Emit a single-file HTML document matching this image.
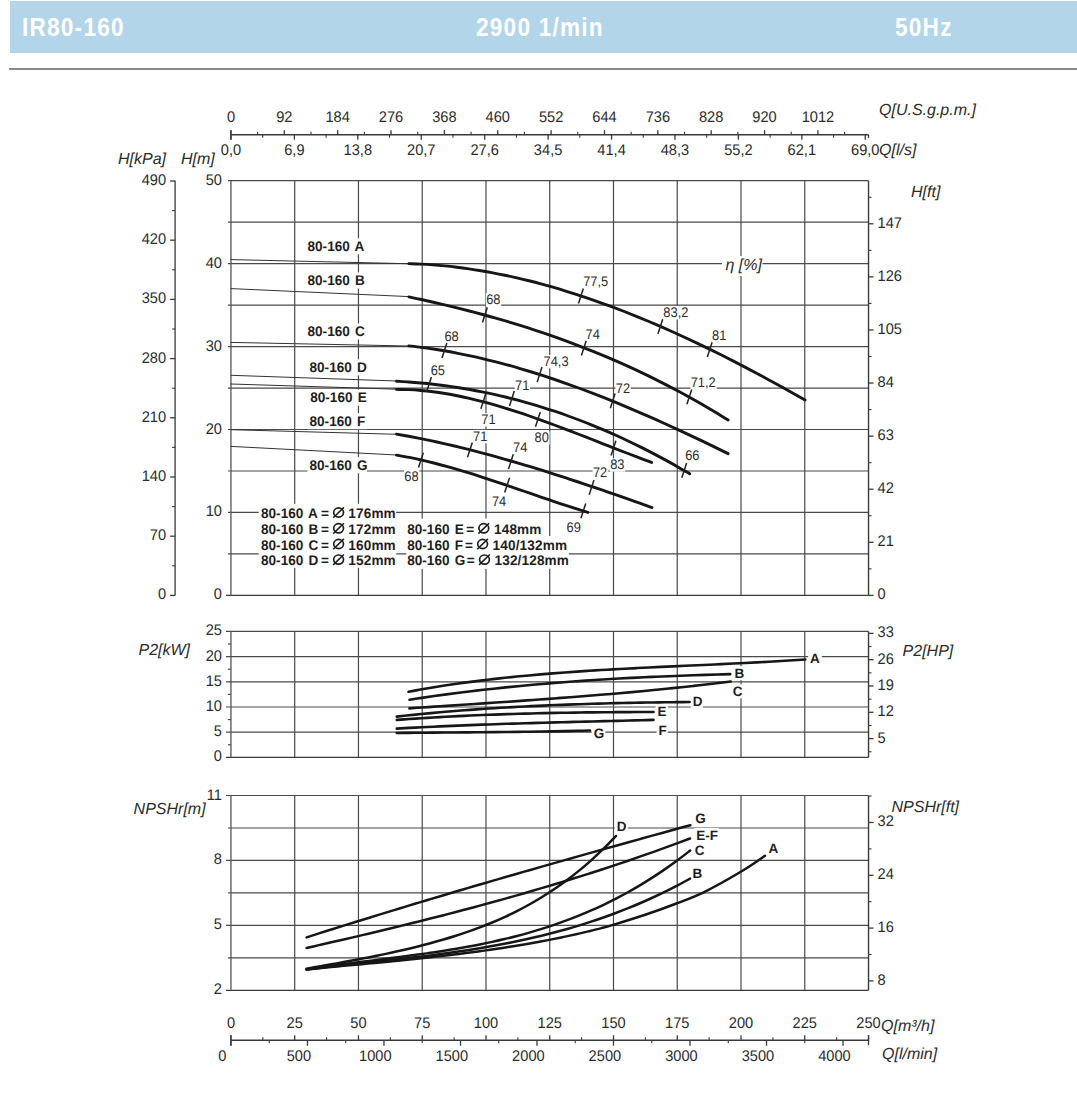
<!DOCTYPE html>
<html><head><meta charset="utf-8"><style>
html,body{margin:0;padding:0;background:#fff;width:1077px;height:1101px;overflow:hidden;}
body{position:relative;font-family:"Liberation Sans",sans-serif;}
.bar{position:absolute;left:10px;top:1px;width:1067px;height:52px;background:#b2d5ea;}
.bar span{position:absolute;top:11px;color:#fff;font-weight:bold;font-size:26px;line-height:30px;white-space:nowrap;transform-origin:0 0;transform:scaleX(0.87);letter-spacing:1.4px;}
.rule{position:absolute;left:9px;top:68px;width:1068px;height:1.6px;background:#8a8a8a;}
svg{position:absolute;left:0;top:0;}
svg text{font-family:"Liberation Sans",sans-serif;text-rendering:geometricPrecision;}
</style></head><body>
<div class="bar"><span id="t1" style="left:11.5px">IR80-160</span><span id="t2" style="left:466px">2900 1/min</span><span id="t3" style="left:884.8px">50Hz</span></div>
<div class="rule"></div>
<svg width="1077" height="1101" viewBox="0 0 1077 1101">
<line x1="230.95" y1="134.7" x2="868.53" y2="134.7" stroke="#3a3a3a" stroke-width="1.5"/>
<line x1="230.95" y1="130.2" x2="230.95" y2="134.7" stroke="#3a3a3a" stroke-width="1.3"/>
<text transform="translate(230.95,122) scale(0.95,1)" font-size="15.4" text-anchor="middle" fill="#2b2b2b">0</text>
<line x1="284.31" y1="130.2" x2="284.31" y2="134.7" stroke="#3a3a3a" stroke-width="1.3"/>
<text transform="translate(284.31,122) scale(0.95,1)" font-size="15.4" text-anchor="middle" fill="#2b2b2b">92</text>
<line x1="337.67" y1="130.2" x2="337.67" y2="134.7" stroke="#3a3a3a" stroke-width="1.3"/>
<text transform="translate(337.67,122) scale(0.95,1)" font-size="15.4" text-anchor="middle" fill="#2b2b2b">184</text>
<line x1="391.03" y1="130.2" x2="391.03" y2="134.7" stroke="#3a3a3a" stroke-width="1.3"/>
<text transform="translate(391.03,122) scale(0.95,1)" font-size="15.4" text-anchor="middle" fill="#2b2b2b">276</text>
<line x1="444.39" y1="130.2" x2="444.39" y2="134.7" stroke="#3a3a3a" stroke-width="1.3"/>
<text transform="translate(444.39,122) scale(0.95,1)" font-size="15.4" text-anchor="middle" fill="#2b2b2b">368</text>
<line x1="497.75" y1="130.2" x2="497.75" y2="134.7" stroke="#3a3a3a" stroke-width="1.3"/>
<text transform="translate(497.75,122) scale(0.95,1)" font-size="15.4" text-anchor="middle" fill="#2b2b2b">460</text>
<line x1="551.11" y1="130.2" x2="551.11" y2="134.7" stroke="#3a3a3a" stroke-width="1.3"/>
<text transform="translate(551.11,122) scale(0.95,1)" font-size="15.4" text-anchor="middle" fill="#2b2b2b">552</text>
<line x1="604.47" y1="130.2" x2="604.47" y2="134.7" stroke="#3a3a3a" stroke-width="1.3"/>
<text transform="translate(604.47,122) scale(0.95,1)" font-size="15.4" text-anchor="middle" fill="#2b2b2b">644</text>
<line x1="657.83" y1="130.2" x2="657.83" y2="134.7" stroke="#3a3a3a" stroke-width="1.3"/>
<text transform="translate(657.83,122) scale(0.95,1)" font-size="15.4" text-anchor="middle" fill="#2b2b2b">736</text>
<line x1="711.19" y1="130.2" x2="711.19" y2="134.7" stroke="#3a3a3a" stroke-width="1.3"/>
<text transform="translate(711.19,122) scale(0.95,1)" font-size="15.4" text-anchor="middle" fill="#2b2b2b">828</text>
<line x1="764.55" y1="130.2" x2="764.55" y2="134.7" stroke="#3a3a3a" stroke-width="1.3"/>
<text transform="translate(764.55,122) scale(0.95,1)" font-size="15.4" text-anchor="middle" fill="#2b2b2b">920</text>
<line x1="817.91" y1="130.2" x2="817.91" y2="134.7" stroke="#3a3a3a" stroke-width="1.3"/>
<text transform="translate(817.91,122) scale(0.95,1)" font-size="15.4" text-anchor="middle" fill="#2b2b2b">1012</text>
<line x1="257.63" y1="131.7" x2="257.63" y2="134.7" stroke="#3a3a3a" stroke-width="1.1"/>
<line x1="310.99" y1="131.7" x2="310.99" y2="134.7" stroke="#3a3a3a" stroke-width="1.1"/>
<line x1="364.35" y1="131.7" x2="364.35" y2="134.7" stroke="#3a3a3a" stroke-width="1.1"/>
<line x1="417.71" y1="131.7" x2="417.71" y2="134.7" stroke="#3a3a3a" stroke-width="1.1"/>
<line x1="471.07" y1="131.7" x2="471.07" y2="134.7" stroke="#3a3a3a" stroke-width="1.1"/>
<line x1="524.43" y1="131.7" x2="524.43" y2="134.7" stroke="#3a3a3a" stroke-width="1.1"/>
<line x1="577.79" y1="131.7" x2="577.79" y2="134.7" stroke="#3a3a3a" stroke-width="1.1"/>
<line x1="631.15" y1="131.7" x2="631.15" y2="134.7" stroke="#3a3a3a" stroke-width="1.1"/>
<line x1="684.51" y1="131.7" x2="684.51" y2="134.7" stroke="#3a3a3a" stroke-width="1.1"/>
<line x1="737.87" y1="131.7" x2="737.87" y2="134.7" stroke="#3a3a3a" stroke-width="1.1"/>
<line x1="791.23" y1="131.7" x2="791.23" y2="134.7" stroke="#3a3a3a" stroke-width="1.1"/>
<line x1="844.59" y1="131.7" x2="844.59" y2="134.7" stroke="#3a3a3a" stroke-width="1.1"/>
<line x1="230.95" y1="134.7" x2="230.95" y2="139.7" stroke="#3a3a3a" stroke-width="1.3"/>
<text transform="translate(230.95,154.5) scale(0.95,1)" font-size="15.4" text-anchor="middle" fill="#2b2b2b">0,0</text>
<line x1="294.38" y1="134.7" x2="294.38" y2="139.7" stroke="#3a3a3a" stroke-width="1.3"/>
<text transform="translate(294.38,154.5) scale(0.95,1)" font-size="15.4" text-anchor="middle" fill="#2b2b2b">6,9</text>
<line x1="357.81" y1="134.7" x2="357.81" y2="139.7" stroke="#3a3a3a" stroke-width="1.3"/>
<text transform="translate(357.81,154.5) scale(0.95,1)" font-size="15.4" text-anchor="middle" fill="#2b2b2b">13,8</text>
<line x1="421.25" y1="134.7" x2="421.25" y2="139.7" stroke="#3a3a3a" stroke-width="1.3"/>
<text transform="translate(421.25,154.5) scale(0.95,1)" font-size="15.4" text-anchor="middle" fill="#2b2b2b">20,7</text>
<line x1="484.68" y1="134.7" x2="484.68" y2="139.7" stroke="#3a3a3a" stroke-width="1.3"/>
<text transform="translate(484.68,154.5) scale(0.95,1)" font-size="15.4" text-anchor="middle" fill="#2b2b2b">27,6</text>
<line x1="548.11" y1="134.7" x2="548.11" y2="139.7" stroke="#3a3a3a" stroke-width="1.3"/>
<text transform="translate(548.11,154.5) scale(0.95,1)" font-size="15.4" text-anchor="middle" fill="#2b2b2b">34,5</text>
<line x1="611.54" y1="134.7" x2="611.54" y2="139.7" stroke="#3a3a3a" stroke-width="1.3"/>
<text transform="translate(611.54,154.5) scale(0.95,1)" font-size="15.4" text-anchor="middle" fill="#2b2b2b">41,4</text>
<line x1="674.97" y1="134.7" x2="674.97" y2="139.7" stroke="#3a3a3a" stroke-width="1.3"/>
<text transform="translate(674.97,154.5) scale(0.95,1)" font-size="15.4" text-anchor="middle" fill="#2b2b2b">48,3</text>
<line x1="738.4" y1="134.7" x2="738.4" y2="139.7" stroke="#3a3a3a" stroke-width="1.3"/>
<text transform="translate(738.4,154.5) scale(0.95,1)" font-size="15.4" text-anchor="middle" fill="#2b2b2b">55,2</text>
<line x1="801.84" y1="134.7" x2="801.84" y2="139.7" stroke="#3a3a3a" stroke-width="1.3"/>
<text transform="translate(801.84,154.5) scale(0.95,1)" font-size="15.4" text-anchor="middle" fill="#2b2b2b">62,1</text>
<line x1="865.27" y1="134.7" x2="865.27" y2="139.7" stroke="#3a3a3a" stroke-width="1.3"/>
<text transform="translate(865.27,154.5) scale(0.95,1)" font-size="15.4" text-anchor="middle" fill="#2b2b2b">69,0</text>
<line x1="262.67" y1="134.7" x2="262.67" y2="137.7" stroke="#3a3a3a" stroke-width="1.1"/>
<line x1="326.1" y1="134.7" x2="326.1" y2="137.7" stroke="#3a3a3a" stroke-width="1.1"/>
<line x1="389.53" y1="134.7" x2="389.53" y2="137.7" stroke="#3a3a3a" stroke-width="1.1"/>
<line x1="452.96" y1="134.7" x2="452.96" y2="137.7" stroke="#3a3a3a" stroke-width="1.1"/>
<line x1="516.39" y1="134.7" x2="516.39" y2="137.7" stroke="#3a3a3a" stroke-width="1.1"/>
<line x1="579.82" y1="134.7" x2="579.82" y2="137.7" stroke="#3a3a3a" stroke-width="1.1"/>
<line x1="643.26" y1="134.7" x2="643.26" y2="137.7" stroke="#3a3a3a" stroke-width="1.1"/>
<line x1="706.69" y1="134.7" x2="706.69" y2="137.7" stroke="#3a3a3a" stroke-width="1.1"/>
<line x1="770.12" y1="134.7" x2="770.12" y2="137.7" stroke="#3a3a3a" stroke-width="1.1"/>
<line x1="833.55" y1="134.7" x2="833.55" y2="137.7" stroke="#3a3a3a" stroke-width="1.1"/>
<line x1="230.95" y1="130.2" x2="230.95" y2="139.7" stroke="#3a3a3a" stroke-width="1.3"/>
<line x1="868.53" y1="134.7" x2="868.53" y2="137.9" stroke="#3a3a3a" stroke-width="1.3"/>
<text x="879" y="115" font-size="16" text-anchor="start" font-weight="normal" font-style="italic" fill="#2b2b2b">Q[U.S.g.p.m.]</text>
<text x="879" y="155" font-size="16" text-anchor="start" font-weight="normal" font-style="italic" fill="#2b2b2b">Q[l/s]</text>
<line x1="294.71" y1="180.7" x2="294.71" y2="595.4" stroke="#4a4a4a" stroke-width="1.2"/>
<line x1="358.46" y1="180.7" x2="358.46" y2="595.4" stroke="#4a4a4a" stroke-width="1.2"/>
<line x1="422.22" y1="180.7" x2="422.22" y2="595.4" stroke="#4a4a4a" stroke-width="1.2"/>
<line x1="485.98" y1="180.7" x2="485.98" y2="595.4" stroke="#4a4a4a" stroke-width="1.2"/>
<line x1="549.74" y1="180.7" x2="549.74" y2="595.4" stroke="#4a4a4a" stroke-width="1.2"/>
<line x1="613.5" y1="180.7" x2="613.5" y2="595.4" stroke="#4a4a4a" stroke-width="1.2"/>
<line x1="677.25" y1="180.7" x2="677.25" y2="595.4" stroke="#4a4a4a" stroke-width="1.2"/>
<line x1="741.01" y1="180.7" x2="741.01" y2="595.4" stroke="#4a4a4a" stroke-width="1.2"/>
<line x1="804.77" y1="180.7" x2="804.77" y2="595.4" stroke="#4a4a4a" stroke-width="1.2"/>
<line x1="225.95" y1="595.4" x2="868.53" y2="595.4" stroke="#3a3a3a" stroke-width="1.3"/>
<line x1="227.95" y1="553.93" x2="868.53" y2="553.93" stroke="#4a4a4a" stroke-width="1.2"/>
<line x1="227.95" y1="512.46" x2="868.53" y2="512.46" stroke="#4a4a4a" stroke-width="1.2"/>
<line x1="227.95" y1="470.99" x2="868.53" y2="470.99" stroke="#4a4a4a" stroke-width="1.2"/>
<line x1="227.95" y1="429.52" x2="868.53" y2="429.52" stroke="#4a4a4a" stroke-width="1.2"/>
<line x1="227.95" y1="388.05" x2="868.53" y2="388.05" stroke="#4a4a4a" stroke-width="1.2"/>
<line x1="227.95" y1="346.58" x2="868.53" y2="346.58" stroke="#4a4a4a" stroke-width="1.2"/>
<line x1="227.95" y1="305.11" x2="868.53" y2="305.11" stroke="#4a4a4a" stroke-width="1.2"/>
<line x1="227.95" y1="263.64" x2="868.53" y2="263.64" stroke="#4a4a4a" stroke-width="1.2"/>
<line x1="227.95" y1="222.17" x2="868.53" y2="222.17" stroke="#4a4a4a" stroke-width="1.2"/>
<line x1="227.95" y1="180.7" x2="868.53" y2="180.7" stroke="#4a4a4a" stroke-width="1.2"/>
<line x1="230.95" y1="180.7" x2="230.95" y2="595.4" stroke="#555" stroke-width="1.3"/>
<line x1="868.53" y1="180.7" x2="868.53" y2="595.4" stroke="#3a3a3a" stroke-width="1.4"/>
<text transform="translate(221.95,599.4) scale(0.95,1)" font-size="15.4" text-anchor="end" fill="#2b2b2b">0</text>
<text transform="translate(221.95,516.46) scale(0.95,1)" font-size="15.4" text-anchor="end" fill="#2b2b2b">10</text>
<text transform="translate(221.95,433.52) scale(0.95,1)" font-size="15.4" text-anchor="end" fill="#2b2b2b">20</text>
<text transform="translate(221.95,350.58) scale(0.95,1)" font-size="15.4" text-anchor="end" fill="#2b2b2b">30</text>
<text transform="translate(221.95,267.64) scale(0.95,1)" font-size="15.4" text-anchor="end" fill="#2b2b2b">40</text>
<text transform="translate(221.95,184.7) scale(0.95,1)" font-size="15.4" text-anchor="end" fill="#2b2b2b">50</text>
<line x1="175.1" y1="180.7" x2="175.1" y2="595.4" stroke="#3a3a3a" stroke-width="1.3"/>
<line x1="170.1" y1="595.4" x2="175.1" y2="595.4" stroke="#3a3a3a" stroke-width="1.3"/>
<text transform="translate(166.1,599.4) scale(0.95,1)" font-size="15.4" text-anchor="end" fill="#2b2b2b">0</text>
<line x1="172.1" y1="565.8" x2="175.1" y2="565.8" stroke="#3a3a3a" stroke-width="1.1"/>
<line x1="170.1" y1="536.2" x2="175.1" y2="536.2" stroke="#3a3a3a" stroke-width="1.3"/>
<text transform="translate(166.1,540.2) scale(0.95,1)" font-size="15.4" text-anchor="end" fill="#2b2b2b">70</text>
<line x1="172.1" y1="506.6" x2="175.1" y2="506.6" stroke="#3a3a3a" stroke-width="1.1"/>
<line x1="170.1" y1="476.99" x2="175.1" y2="476.99" stroke="#3a3a3a" stroke-width="1.3"/>
<text transform="translate(166.1,480.99) scale(0.95,1)" font-size="15.4" text-anchor="end" fill="#2b2b2b">140</text>
<line x1="172.1" y1="447.39" x2="175.1" y2="447.39" stroke="#3a3a3a" stroke-width="1.1"/>
<line x1="170.1" y1="417.79" x2="175.1" y2="417.79" stroke="#3a3a3a" stroke-width="1.3"/>
<text transform="translate(166.1,421.79) scale(0.95,1)" font-size="15.4" text-anchor="end" fill="#2b2b2b">210</text>
<line x1="172.1" y1="388.19" x2="175.1" y2="388.19" stroke="#3a3a3a" stroke-width="1.1"/>
<line x1="170.1" y1="358.59" x2="175.1" y2="358.59" stroke="#3a3a3a" stroke-width="1.3"/>
<text transform="translate(166.1,362.59) scale(0.95,1)" font-size="15.4" text-anchor="end" fill="#2b2b2b">280</text>
<line x1="172.1" y1="328.99" x2="175.1" y2="328.99" stroke="#3a3a3a" stroke-width="1.1"/>
<line x1="170.1" y1="299.39" x2="175.1" y2="299.39" stroke="#3a3a3a" stroke-width="1.3"/>
<text transform="translate(166.1,303.39) scale(0.95,1)" font-size="15.4" text-anchor="end" fill="#2b2b2b">350</text>
<line x1="172.1" y1="269.79" x2="175.1" y2="269.79" stroke="#3a3a3a" stroke-width="1.1"/>
<line x1="170.1" y1="240.18" x2="175.1" y2="240.18" stroke="#3a3a3a" stroke-width="1.3"/>
<text transform="translate(166.1,244.18) scale(0.95,1)" font-size="15.4" text-anchor="end" fill="#2b2b2b">420</text>
<line x1="172.1" y1="210.58" x2="175.1" y2="210.58" stroke="#3a3a3a" stroke-width="1.1"/>
<line x1="170.1" y1="180.98" x2="175.1" y2="180.98" stroke="#3a3a3a" stroke-width="1.3"/>
<text transform="translate(166.1,184.98) scale(0.95,1)" font-size="15.4" text-anchor="end" fill="#2b2b2b">490</text>
<line x1="868.53" y1="595.4" x2="873.53" y2="595.4" stroke="#3a3a3a" stroke-width="1.3"/>
<text transform="translate(877.53,599.4) scale(0.95,1)" font-size="15.4" text-anchor="start" fill="#2b2b2b">0</text>
<line x1="868.53" y1="542.31" x2="873.53" y2="542.31" stroke="#3a3a3a" stroke-width="1.3"/>
<text transform="translate(877.53,546.31) scale(0.95,1)" font-size="15.4" text-anchor="start" fill="#2b2b2b">21</text>
<line x1="868.53" y1="489.22" x2="873.53" y2="489.22" stroke="#3a3a3a" stroke-width="1.3"/>
<text transform="translate(877.53,493.22) scale(0.95,1)" font-size="15.4" text-anchor="start" fill="#2b2b2b">42</text>
<line x1="868.53" y1="436.14" x2="873.53" y2="436.14" stroke="#3a3a3a" stroke-width="1.3"/>
<text transform="translate(877.53,440.14) scale(0.95,1)" font-size="15.4" text-anchor="start" fill="#2b2b2b">63</text>
<line x1="868.53" y1="383.05" x2="873.53" y2="383.05" stroke="#3a3a3a" stroke-width="1.3"/>
<text transform="translate(877.53,387.05) scale(0.95,1)" font-size="15.4" text-anchor="start" fill="#2b2b2b">84</text>
<line x1="868.53" y1="329.96" x2="873.53" y2="329.96" stroke="#3a3a3a" stroke-width="1.3"/>
<text transform="translate(877.53,333.96) scale(0.95,1)" font-size="15.4" text-anchor="start" fill="#2b2b2b">105</text>
<line x1="868.53" y1="276.87" x2="873.53" y2="276.87" stroke="#3a3a3a" stroke-width="1.3"/>
<text transform="translate(877.53,280.87) scale(0.95,1)" font-size="15.4" text-anchor="start" fill="#2b2b2b">126</text>
<line x1="868.53" y1="223.78" x2="873.53" y2="223.78" stroke="#3a3a3a" stroke-width="1.3"/>
<text transform="translate(877.53,227.78) scale(0.95,1)" font-size="15.4" text-anchor="start" fill="#2b2b2b">147</text>
<line x1="868.53" y1="568.86" x2="871.53" y2="568.86" stroke="#3a3a3a" stroke-width="1.1"/>
<line x1="868.53" y1="515.77" x2="871.53" y2="515.77" stroke="#3a3a3a" stroke-width="1.1"/>
<line x1="868.53" y1="462.68" x2="871.53" y2="462.68" stroke="#3a3a3a" stroke-width="1.1"/>
<line x1="868.53" y1="409.59" x2="871.53" y2="409.59" stroke="#3a3a3a" stroke-width="1.1"/>
<line x1="868.53" y1="356.5" x2="871.53" y2="356.5" stroke="#3a3a3a" stroke-width="1.1"/>
<line x1="868.53" y1="303.41" x2="871.53" y2="303.41" stroke="#3a3a3a" stroke-width="1.1"/>
<line x1="868.53" y1="250.33" x2="871.53" y2="250.33" stroke="#3a3a3a" stroke-width="1.1"/>
<line x1="868.53" y1="197.24" x2="871.53" y2="197.24" stroke="#3a3a3a" stroke-width="1.1"/>
<text x="118" y="164" font-size="16" text-anchor="start" font-weight="normal" font-style="italic" fill="#2b2b2b">H[kPa]</text>
<text x="181" y="164" font-size="16" text-anchor="start" font-weight="normal" font-style="italic" fill="#2b2b2b">H[m]</text>
<text x="911" y="197" font-size="16" text-anchor="start" font-weight="normal" font-style="italic" fill="#2b2b2b">H[ft]</text>
<path d="M231,259.6 L408.9,263.7" fill="none" stroke="#333" stroke-width="1.0" stroke-linecap="round" stroke-linejoin="round"/>
<path d="M231,288.6 L408.9,296.6" fill="none" stroke="#333" stroke-width="1.0" stroke-linecap="round" stroke-linejoin="round"/>
<path d="M231,342.4 L408.8,346" fill="none" stroke="#333" stroke-width="1.0" stroke-linecap="round" stroke-linejoin="round"/>
<path d="M231,375.3 L396.5,381" fill="none" stroke="#333" stroke-width="1.0" stroke-linecap="round" stroke-linejoin="round"/>
<path d="M231,384 L396.5,389.2" fill="none" stroke="#333" stroke-width="1.0" stroke-linecap="round" stroke-linejoin="round"/>
<path d="M231,429.7 L396.5,434.3" fill="none" stroke="#333" stroke-width="1.0" stroke-linecap="round" stroke-linejoin="round"/>
<path d="M231,446.4 L396.5,455" fill="none" stroke="#333" stroke-width="1.0" stroke-linecap="round" stroke-linejoin="round"/>
<rect x="305.5" y="238.3" width="59.4" height="16.1" fill="#fff"/>
<rect x="305.5" y="272.4" width="59.4" height="16.1" fill="#fff"/>
<rect x="305.5" y="323.4" width="59.4" height="16.1" fill="#fff"/>
<rect x="307.5" y="359.3" width="59.4" height="16.1" fill="#fff"/>
<rect x="308.2" y="389.6" width="59.4" height="16.1" fill="#fff"/>
<rect x="307.5" y="413.1" width="59.4" height="16.1" fill="#fff"/>
<rect x="307.5" y="457.2" width="59.4" height="16.1" fill="#fff"/>
<rect x="258.7" y="503.8" width="137.5" height="64" fill="#fff"/>
<rect x="406.3" y="518.6" width="136" height="18" fill="#fff"/>
<rect x="406.3" y="536" width="162.5" height="32.8" fill="#fff"/>
<rect x="582.9" y="275.6" width="26.29" height="13.4" fill="#fff"/>
<rect x="663" y="306" width="26.29" height="13.4" fill="#fff"/>
<rect x="711.7" y="329.5" width="15.28" height="13.4" fill="#fff"/>
<rect x="485.9" y="293.1" width="15.28" height="13.4" fill="#fff"/>
<rect x="585.2" y="328.5" width="15.28" height="13.4" fill="#fff"/>
<rect x="690.4" y="376.2" width="26.29" height="13.4" fill="#fff"/>
<rect x="444.1" y="330.1" width="15.28" height="13.4" fill="#fff"/>
<rect x="543.2" y="355.1" width="26.29" height="13.4" fill="#fff"/>
<rect x="615.5" y="381.7" width="15.28" height="13.4" fill="#fff"/>
<rect x="430.4" y="363.9" width="15.28" height="13.4" fill="#fff"/>
<rect x="514.8" y="379.4" width="15.28" height="13.4" fill="#fff"/>
<rect x="684.9" y="449.1" width="15.28" height="13.4" fill="#fff"/>
<rect x="481" y="413.2" width="15.28" height="13.4" fill="#fff"/>
<rect x="534.3" y="431.3" width="15.28" height="13.4" fill="#fff"/>
<rect x="609.9" y="458.3" width="15.28" height="13.4" fill="#fff"/>
<rect x="472.7" y="429.9" width="15.28" height="13.4" fill="#fff"/>
<rect x="512.8" y="441.6" width="15.28" height="13.4" fill="#fff"/>
<rect x="592.6" y="466.3" width="15.28" height="13.4" fill="#fff"/>
<rect x="404" y="469.9" width="15.28" height="13.4" fill="#fff"/>
<rect x="491.6" y="494.9" width="15.28" height="13.4" fill="#fff"/>
<rect x="566.3" y="520.7" width="15.28" height="13.4" fill="#fff"/>
<rect x="722" y="256" width="40.5" height="20" fill="#fff"/>
<path d="M408.9,263.6 C410.9,263.68 416.9,263.87 420.9,264.08 C424.9,264.29 428.91,264.54 432.91,264.85 C436.91,265.15 440.91,265.51 444.91,265.91 C448.91,266.3 452.91,266.75 456.91,267.24 C460.91,267.73 464.91,268.27 468.92,268.85 C472.92,269.43 476.92,270.05 480.92,270.72 C484.92,271.39 488.92,272.1 492.92,272.85 C496.92,273.6 500.92,274.4 504.92,275.24 C508.93,276.07 512.93,276.95 516.93,277.87 C520.93,278.79 524.93,279.75 528.93,280.75 C532.93,281.75 536.93,282.78 540.93,283.86 C544.93,284.94 548.94,286.05 552.94,287.2 C556.94,288.35 560.94,289.54 564.94,290.77 C568.94,291.99 572.94,293.26 576.94,294.55 C580.94,295.85 584.94,297.18 588.95,298.55 C592.95,299.92 596.95,301.32 600.95,302.76 C604.95,304.19 608.95,305.66 612.95,307.16 C616.95,308.66 620.95,310.19 624.95,311.76 C628.96,313.32 632.96,314.92 636.96,316.54 C640.96,318.17 644.96,319.83 648.96,321.51 C652.96,323.2 656.96,324.91 660.96,326.66 C664.96,328.4 668.97,330.17 672.97,331.97 C676.97,333.77 680.97,335.6 684.97,337.45 C688.97,339.31 692.97,341.19 696.97,343.09 C700.97,345 704.97,346.93 708.98,348.88 C712.98,350.84 716.98,352.82 720.98,354.82 C724.98,356.82 728.98,358.85 732.98,360.9 C736.98,362.95 740.98,365.02 744.98,367.11 C748.99,369.2 752.99,371.32 756.99,373.45 C760.99,375.58 764.99,377.74 768.99,379.91 C772.99,382.09 776.99,384.28 780.99,386.49 C784.99,388.71 789,390.94 793,393.18 C797,395.43 803,398.85 805,399.98" fill="none" stroke="#161616" stroke-width="2.9" stroke-linecap="round" stroke-linejoin="round"/>
<path d="M408.9,296.91 C410.95,297.34 417.08,298.64 421.18,299.53 C425.27,300.43 429.36,301.34 433.45,302.27 C437.55,303.2 441.64,304.16 445.73,305.13 C449.82,306.11 453.92,307.1 458.01,308.12 C462.1,309.14 466.19,310.18 470.28,311.24 C474.38,312.3 478.47,313.39 482.56,314.5 C486.65,315.61 490.75,316.75 494.84,317.91 C498.93,319.08 503.02,320.26 507.12,321.48 C511.21,322.69 515.3,323.94 519.39,325.21 C523.48,326.48 527.58,327.78 531.67,329.1 C535.76,330.43 539.85,331.79 543.95,333.18 C548.04,334.56 552.13,335.98 556.22,337.43 C560.32,338.88 564.41,340.36 568.5,341.88 C572.59,343.39 576.68,344.94 580.78,346.52 C584.87,348.1 588.96,349.71 593.05,351.36 C597.15,353.01 601.24,354.7 605.33,356.42 C609.42,358.14 613.52,359.9 617.61,361.69 C621.7,363.49 625.79,365.32 629.88,367.19 C633.98,369.06 638.07,370.97 642.16,372.92 C646.25,374.87 650.35,376.85 654.44,378.88 C658.53,380.91 662.62,382.98 666.72,385.09 C670.81,387.21 674.9,389.36 678.99,391.56 C683.08,393.76 687.18,396 691.27,398.28 C695.36,400.57 699.45,402.89 703.55,405.27 C707.64,407.64 711.73,410.06 715.82,412.53 C719.92,415 726.05,418.81 728.1,420.07" fill="none" stroke="#161616" stroke-width="2.9" stroke-linecap="round" stroke-linejoin="round"/>
<path d="M408.8,345.88 C410.85,346.12 416.99,346.79 421.08,347.32 C425.17,347.84 429.27,348.42 433.36,349.04 C437.46,349.66 441.55,350.32 445.64,351.03 C449.74,351.74 453.83,352.5 457.92,353.3 C462.02,354.09 466.11,354.93 470.2,355.82 C474.3,356.7 478.39,357.62 482.48,358.59 C486.58,359.55 490.67,360.56 494.77,361.6 C498.86,362.64 502.95,363.73 507.05,364.85 C511.14,365.97 515.23,367.12 519.33,368.32 C523.42,369.51 527.51,370.74 531.61,372 C535.7,373.27 539.79,374.57 543.89,375.9 C547.98,377.23 552.08,378.6 556.17,380 C560.26,381.39 564.36,382.82 568.45,384.28 C572.54,385.74 576.64,387.23 580.73,388.75 C584.82,390.27 588.92,391.82 593.01,393.4 C597.11,394.97 601.2,396.58 605.29,398.21 C609.39,399.84 613.48,401.5 617.57,403.18 C621.67,404.86 625.76,406.57 629.85,408.3 C633.95,410.02 638.04,411.78 642.13,413.56 C646.23,415.33 650.32,417.13 654.42,418.95 C658.51,420.77 662.6,422.61 666.7,424.47 C670.79,426.32 674.88,428.2 678.98,430.1 C683.07,432 687.16,433.91 691.26,435.84 C695.35,437.77 699.44,439.72 703.54,441.68 C707.63,443.64 711.73,445.62 715.82,447.61 C719.91,449.61 726.05,452.63 728.1,453.63" fill="none" stroke="#161616" stroke-width="2.9" stroke-linecap="round" stroke-linejoin="round"/>
<path d="M396.5,381.28 C398.54,381.4 404.64,381.71 408.72,381.99 C412.79,382.26 416.86,382.59 420.93,382.95 C425.01,383.32 429.08,383.73 433.15,384.19 C437.22,384.65 441.29,385.15 445.37,385.69 C449.44,386.24 453.51,386.83 457.58,387.47 C461.66,388.1 465.73,388.79 469.8,389.51 C473.87,390.24 477.94,391.01 482.02,391.83 C486.09,392.65 490.16,393.51 494.23,394.42 C498.31,395.33 502.38,396.28 506.45,397.28 C510.52,398.28 514.59,399.33 518.67,400.42 C522.74,401.51 526.81,402.65 530.88,403.83 C534.96,405.02 539.03,406.25 543.1,407.52 C547.17,408.8 551.24,410.12 555.32,411.49 C559.39,412.86 563.46,414.28 567.53,415.74 C571.61,417.2 575.68,418.71 579.75,420.27 C583.82,421.83 587.89,423.43 591.97,425.08 C596.04,426.73 600.11,428.43 604.18,430.17 C608.26,431.92 612.33,433.71 616.4,435.55 C620.47,437.39 624.54,439.27 628.62,441.21 C632.69,443.14 636.76,445.12 640.83,447.15 C644.91,449.18 648.98,451.26 653.05,453.38 C657.12,455.51 661.19,457.68 665.27,459.9 C669.34,462.12 673.41,464.39 677.48,466.7 C681.56,469.02 687.66,472.62 689.7,473.8" fill="none" stroke="#161616" stroke-width="2.9" stroke-linecap="round" stroke-linejoin="round"/>
<path d="M396.5,389.4 C398.52,389.45 404.6,389.49 408.65,389.66 C412.7,389.84 416.75,390.11 420.8,390.47 C424.84,390.82 428.89,391.26 432.94,391.77 C436.99,392.28 441.04,392.88 445.09,393.54 C449.14,394.21 453.19,394.95 457.24,395.76 C461.29,396.56 465.34,397.44 469.39,398.37 C473.43,399.3 477.48,400.3 481.53,401.35 C485.58,402.39 489.63,403.5 493.68,404.66 C497.73,405.81 501.78,407.02 505.83,408.27 C509.88,409.51 513.93,410.81 517.98,412.14 C522.03,413.47 526.07,414.85 530.12,416.25 C534.17,417.65 538.22,419.09 542.27,420.55 C546.32,422.01 550.37,423.5 554.42,425.01 C558.47,426.51 562.52,428.05 566.57,429.59 C570.62,431.14 574.67,432.7 578.71,434.27 C582.76,435.84 586.81,437.43 590.86,439.01 C594.91,440.6 598.96,442.19 603.01,443.78 C607.06,445.36 611.11,446.95 615.16,448.53 C619.21,450.11 623.26,451.68 627.3,453.24 C631.35,454.79 635.4,456.34 639.45,457.87 C643.5,459.39 649.58,461.63 651.6,462.38" fill="none" stroke="#161616" stroke-width="2.9" stroke-linecap="round" stroke-linejoin="round"/>
<path d="M396.5,434.13 C398.53,434.48 404.61,435.53 408.67,436.28 C412.72,437.03 416.78,437.81 420.83,438.62 C424.89,439.43 428.94,440.27 433,441.14 C437.06,442.01 441.11,442.9 445.17,443.83 C449.22,444.75 453.28,445.7 457.33,446.68 C461.39,447.65 465.44,448.65 469.5,449.68 C473.56,450.7 477.61,451.76 481.67,452.83 C485.72,453.9 489.78,455 493.83,456.11 C497.89,457.23 501.94,458.37 506,459.53 C510.06,460.69 514.11,461.86 518.17,463.06 C522.22,464.26 526.28,465.48 530.33,466.71 C534.39,467.94 538.44,469.19 542.5,470.46 C546.56,471.72 550.61,473.01 554.67,474.3 C558.72,475.6 562.78,476.91 566.83,478.24 C570.89,479.56 574.94,480.9 579,482.25 C583.06,483.6 587.11,484.96 591.17,486.33 C595.22,487.7 599.28,489.09 603.33,490.48 C607.39,491.87 611.44,493.27 615.5,494.68 C619.56,496.08 623.61,497.5 627.67,498.92 C631.72,500.34 635.78,501.77 639.83,503.21 C643.89,504.64 649.97,506.8 652,507.52" fill="none" stroke="#161616" stroke-width="2.9" stroke-linecap="round" stroke-linejoin="round"/>
<path d="M396.5,455.11 C398.63,455.49 405.01,456.59 409.26,457.44 C413.51,458.28 417.77,459.2 422.02,460.17 C426.27,461.14 430.53,462.18 434.78,463.26 C439.03,464.35 443.29,465.49 447.54,466.67 C451.79,467.85 456.05,469.08 460.3,470.34 C464.55,471.6 468.81,472.91 473.06,474.24 C477.31,475.57 481.57,476.94 485.82,478.33 C490.07,479.71 494.33,481.13 498.58,482.55 C502.83,483.98 507.09,485.42 511.34,486.87 C515.59,488.32 519.85,489.79 524.1,491.25 C528.35,492.71 532.61,494.18 536.86,495.63 C541.11,497.09 545.37,498.55 549.62,499.99 C553.87,501.43 558.13,502.86 562.38,504.26 C566.63,505.67 570.89,507.06 575.14,508.42 C579.39,509.78 585.77,511.75 587.9,512.42" fill="none" stroke="#161616" stroke-width="2.9" stroke-linecap="round" stroke-linejoin="round"/>
<line x1="578.5" y1="303.4" x2="583.3" y2="288.6" stroke="#222" stroke-width="1.5"/>
<line x1="657.9" y1="334" x2="662.7" y2="319.2" stroke="#222" stroke-width="1.5"/>
<line x1="707.3" y1="357.1" x2="712.1" y2="342.3" stroke="#222" stroke-width="1.5"/>
<line x1="482.5" y1="322.4" x2="487.3" y2="307.6" stroke="#222" stroke-width="1.5"/>
<line x1="581.4" y1="355.6" x2="586.2" y2="340.8" stroke="#222" stroke-width="1.5"/>
<line x1="686.9" y1="404.2" x2="691.7" y2="389.4" stroke="#222" stroke-width="1.5"/>
<line x1="442" y1="357.9" x2="446.8" y2="343.1" stroke="#222" stroke-width="1.5"/>
<line x1="537.2" y1="381.9" x2="542" y2="367.1" stroke="#222" stroke-width="1.5"/>
<line x1="610.3" y1="408.3" x2="615.1" y2="393.5" stroke="#222" stroke-width="1.5"/>
<line x1="426.6" y1="391.9" x2="431.4" y2="377.1" stroke="#222" stroke-width="1.5"/>
<line x1="509.5" y1="405.9" x2="514.3" y2="391.1" stroke="#222" stroke-width="1.5"/>
<line x1="681.8" y1="477.7" x2="686.6" y2="462.9" stroke="#222" stroke-width="1.5"/>
<line x1="480.9" y1="408.7" x2="485.7" y2="393.9" stroke="#222" stroke-width="1.5"/>
<line x1="535.5" y1="426.7" x2="540.3" y2="411.9" stroke="#222" stroke-width="1.5"/>
<line x1="611.1" y1="455.6" x2="615.9" y2="440.8" stroke="#222" stroke-width="1.5"/>
<line x1="467.5" y1="457.3" x2="472.3" y2="442.5" stroke="#222" stroke-width="1.5"/>
<line x1="508.5" y1="469.1" x2="513.3" y2="454.3" stroke="#222" stroke-width="1.5"/>
<line x1="589.2" y1="494.8" x2="594" y2="480" stroke="#222" stroke-width="1.5"/>
<line x1="418.5" y1="467.5" x2="423.3" y2="452.7" stroke="#222" stroke-width="1.5"/>
<line x1="504.7" y1="492.5" x2="509.5" y2="477.7" stroke="#222" stroke-width="1.5"/>
<line x1="580.9" y1="518.3" x2="585.7" y2="503.5" stroke="#222" stroke-width="1.5"/>
<text transform="translate(583.2,286.4) scale(0.92,1)" font-size="14" fill="#2b2b2b">77,5</text>
<text transform="translate(663.3,316.8) scale(0.92,1)" font-size="14" fill="#2b2b2b">83,2</text>
<text transform="translate(712,340.3) scale(0.92,1)" font-size="14" fill="#2b2b2b">81</text>
<text transform="translate(486.2,303.9) scale(0.92,1)" font-size="14" fill="#2b2b2b">68</text>
<text transform="translate(585.5,339.3) scale(0.92,1)" font-size="14" fill="#2b2b2b">74</text>
<text transform="translate(690.7,387) scale(0.92,1)" font-size="14" fill="#2b2b2b">71,2</text>
<text transform="translate(444.4,340.9) scale(0.92,1)" font-size="14" fill="#2b2b2b">68</text>
<text transform="translate(543.5,365.9) scale(0.92,1)" font-size="14" fill="#2b2b2b">74,3</text>
<text transform="translate(615.8,392.5) scale(0.92,1)" font-size="14" fill="#2b2b2b">72</text>
<text transform="translate(430.7,374.7) scale(0.92,1)" font-size="14" fill="#2b2b2b">65</text>
<text transform="translate(515.1,390.2) scale(0.92,1)" font-size="14" fill="#2b2b2b">71</text>
<text transform="translate(685.2,459.9) scale(0.92,1)" font-size="14" fill="#2b2b2b">66</text>
<text transform="translate(481.3,424) scale(0.92,1)" font-size="14" fill="#2b2b2b">71</text>
<text transform="translate(534.6,442.1) scale(0.92,1)" font-size="14" fill="#2b2b2b">80</text>
<text transform="translate(610.2,469.1) scale(0.92,1)" font-size="14" fill="#2b2b2b">83</text>
<text transform="translate(473,440.7) scale(0.92,1)" font-size="14" fill="#2b2b2b">71</text>
<text transform="translate(513.1,452.4) scale(0.92,1)" font-size="14" fill="#2b2b2b">74</text>
<text transform="translate(592.9,477.1) scale(0.92,1)" font-size="14" fill="#2b2b2b">72</text>
<text transform="translate(404.3,480.7) scale(0.92,1)" font-size="14" fill="#2b2b2b">68</text>
<text transform="translate(491.9,505.7) scale(0.92,1)" font-size="14" fill="#2b2b2b">74</text>
<text transform="translate(566.6,531.5) scale(0.92,1)" font-size="14" fill="#2b2b2b">69</text>
<text transform="translate(307.5,251.1) scale(0.97,1)" font-size="14" font-weight="bold" fill="#1e1e1e" word-spacing="1.6">80-160 A</text>
<text transform="translate(307.5,285.2) scale(0.97,1)" font-size="14" font-weight="bold" fill="#1e1e1e" word-spacing="1.6">80-160 B</text>
<text transform="translate(307.5,336.2) scale(0.97,1)" font-size="14" font-weight="bold" fill="#1e1e1e" word-spacing="1.6">80-160 C</text>
<text transform="translate(309.5,372.1) scale(0.97,1)" font-size="14" font-weight="bold" fill="#1e1e1e" word-spacing="1.6">80-160 D</text>
<text transform="translate(310.2,402.4) scale(0.97,1)" font-size="14" font-weight="bold" fill="#1e1e1e" word-spacing="1.6">80-160 E</text>
<text transform="translate(309.5,425.9) scale(0.97,1)" font-size="14" font-weight="bold" fill="#1e1e1e" word-spacing="1.6">80-160 F</text>
<text transform="translate(309.5,470) scale(0.97,1)" font-size="14" font-weight="bold" fill="#1e1e1e" word-spacing="1.6">80-160 G</text>
<text transform="translate(261,518.2) scale(0.97,1)" font-size="14" font-weight="bold" fill="#1e1e1e" word-spacing="1.6">80-160 A</text>
<text transform="translate(321,518.2) scale(0.97,1)" font-size="14" font-weight="bold" fill="#1e1e1e">=</text>
<ellipse cx="338.6" cy="512.5" rx="4.9" ry="4.6" fill="none" stroke="#1e1e1e" stroke-width="1.7"/>
<line x1="333.2" y1="517.8" x2="343.9" y2="507.4" stroke="#1e1e1e" stroke-width="1.6"/>
<text transform="translate(348.3,518.2) scale(0.97,1)" font-size="14" font-weight="bold" fill="#1e1e1e" letter-spacing="0.15">176mm</text>
<text transform="translate(261,534) scale(0.97,1)" font-size="14" font-weight="bold" fill="#1e1e1e" word-spacing="1.6">80-160 B</text>
<text transform="translate(321,534) scale(0.97,1)" font-size="14" font-weight="bold" fill="#1e1e1e">=</text>
<ellipse cx="338.6" cy="528.3" rx="4.9" ry="4.6" fill="none" stroke="#1e1e1e" stroke-width="1.7"/>
<line x1="333.2" y1="533.6" x2="343.9" y2="523.2" stroke="#1e1e1e" stroke-width="1.6"/>
<text transform="translate(348.3,534) scale(0.97,1)" font-size="14" font-weight="bold" fill="#1e1e1e" letter-spacing="0.15">172mm</text>
<text transform="translate(261,549.7) scale(0.97,1)" font-size="14" font-weight="bold" fill="#1e1e1e" word-spacing="1.6">80-160 C</text>
<text transform="translate(321,549.7) scale(0.97,1)" font-size="14" font-weight="bold" fill="#1e1e1e">=</text>
<ellipse cx="338.6" cy="544" rx="4.9" ry="4.6" fill="none" stroke="#1e1e1e" stroke-width="1.7"/>
<line x1="333.2" y1="549.3" x2="343.9" y2="538.9" stroke="#1e1e1e" stroke-width="1.6"/>
<text transform="translate(348.3,549.7) scale(0.97,1)" font-size="14" font-weight="bold" fill="#1e1e1e" letter-spacing="0.15">160mm</text>
<text transform="translate(261,565.3) scale(0.97,1)" font-size="14" font-weight="bold" fill="#1e1e1e" word-spacing="1.6">80-160 D</text>
<text transform="translate(321,565.3) scale(0.97,1)" font-size="14" font-weight="bold" fill="#1e1e1e">=</text>
<ellipse cx="338.6" cy="559.6" rx="4.9" ry="4.6" fill="none" stroke="#1e1e1e" stroke-width="1.7"/>
<line x1="333.2" y1="564.9" x2="343.9" y2="554.5" stroke="#1e1e1e" stroke-width="1.6"/>
<text transform="translate(348.3,565.3) scale(0.97,1)" font-size="14" font-weight="bold" fill="#1e1e1e" letter-spacing="0.15">152mm</text>
<text transform="translate(407.2,534) scale(0.97,1)" font-size="14" font-weight="bold" fill="#1e1e1e" word-spacing="1.6">80-160 E</text>
<text transform="translate(466.3,534) scale(0.97,1)" font-size="14" font-weight="bold" fill="#1e1e1e">=</text>
<ellipse cx="483.8" cy="528.3" rx="4.9" ry="4.6" fill="none" stroke="#1e1e1e" stroke-width="1.7"/>
<line x1="478.4" y1="533.6" x2="489.1" y2="523.2" stroke="#1e1e1e" stroke-width="1.6"/>
<text transform="translate(494,534) scale(0.97,1)" font-size="14" font-weight="bold" fill="#1e1e1e" letter-spacing="0.15">148mm</text>
<text transform="translate(407.2,549.7) scale(0.97,1)" font-size="14" font-weight="bold" fill="#1e1e1e" word-spacing="1.6">80-160 F</text>
<text transform="translate(465,549.7) scale(0.97,1)" font-size="14" font-weight="bold" fill="#1e1e1e">=</text>
<ellipse cx="482.6" cy="544" rx="4.9" ry="4.6" fill="none" stroke="#1e1e1e" stroke-width="1.7"/>
<line x1="477.2" y1="549.3" x2="487.9" y2="538.9" stroke="#1e1e1e" stroke-width="1.6"/>
<text transform="translate(492.6,549.7) scale(0.97,1)" font-size="14" font-weight="bold" fill="#1e1e1e" letter-spacing="0.15">140/132mm</text>
<text transform="translate(407.2,565.3) scale(0.97,1)" font-size="14" font-weight="bold" fill="#1e1e1e" word-spacing="1.6">80-160 G</text>
<text transform="translate(466.8,565.3) scale(0.97,1)" font-size="14" font-weight="bold" fill="#1e1e1e">=</text>
<ellipse cx="484.5" cy="559.6" rx="4.9" ry="4.6" fill="none" stroke="#1e1e1e" stroke-width="1.7"/>
<line x1="479.1" y1="564.9" x2="489.8" y2="554.5" stroke="#1e1e1e" stroke-width="1.6"/>
<text transform="translate(494.5,565.3) scale(0.97,1)" font-size="14" font-weight="bold" fill="#1e1e1e" letter-spacing="0.15">132/128mm</text>
<text x="725.5" y="269.5" font-size="16" text-anchor="start" font-weight="normal" font-style="italic" fill="#2b2b2b">&#951; [%]</text>
<line x1="294.71" y1="631.4" x2="294.71" y2="757.4" stroke="#4a4a4a" stroke-width="1.2"/>
<line x1="358.46" y1="631.4" x2="358.46" y2="757.4" stroke="#4a4a4a" stroke-width="1.2"/>
<line x1="422.22" y1="631.4" x2="422.22" y2="757.4" stroke="#4a4a4a" stroke-width="1.2"/>
<line x1="485.98" y1="631.4" x2="485.98" y2="757.4" stroke="#4a4a4a" stroke-width="1.2"/>
<line x1="549.74" y1="631.4" x2="549.74" y2="757.4" stroke="#4a4a4a" stroke-width="1.2"/>
<line x1="613.5" y1="631.4" x2="613.5" y2="757.4" stroke="#4a4a4a" stroke-width="1.2"/>
<line x1="677.25" y1="631.4" x2="677.25" y2="757.4" stroke="#4a4a4a" stroke-width="1.2"/>
<line x1="741.01" y1="631.4" x2="741.01" y2="757.4" stroke="#4a4a4a" stroke-width="1.2"/>
<line x1="804.77" y1="631.4" x2="804.77" y2="757.4" stroke="#4a4a4a" stroke-width="1.2"/>
<line x1="225.95" y1="757.4" x2="868.53" y2="757.4" stroke="#3a3a3a" stroke-width="1.3"/>
<text transform="translate(221.95,761.4) scale(0.95,1)" font-size="15.4" text-anchor="end" fill="#2b2b2b">0</text>
<line x1="225.95" y1="732.2" x2="868.53" y2="732.2" stroke="#4a4a4a" stroke-width="1.2"/>
<text transform="translate(221.95,736.2) scale(0.95,1)" font-size="15.4" text-anchor="end" fill="#2b2b2b">5</text>
<line x1="225.95" y1="707" x2="868.53" y2="707" stroke="#4a4a4a" stroke-width="1.2"/>
<text transform="translate(221.95,711) scale(0.95,1)" font-size="15.4" text-anchor="end" fill="#2b2b2b">10</text>
<line x1="225.95" y1="681.8" x2="868.53" y2="681.8" stroke="#4a4a4a" stroke-width="1.2"/>
<text transform="translate(221.95,685.8) scale(0.95,1)" font-size="15.4" text-anchor="end" fill="#2b2b2b">15</text>
<line x1="225.95" y1="656.6" x2="868.53" y2="656.6" stroke="#4a4a4a" stroke-width="1.2"/>
<text transform="translate(221.95,660.6) scale(0.95,1)" font-size="15.4" text-anchor="end" fill="#2b2b2b">20</text>
<line x1="225.95" y1="631.4" x2="868.53" y2="631.4" stroke="#4a4a4a" stroke-width="1.2"/>
<text transform="translate(221.95,635.4) scale(0.95,1)" font-size="15.4" text-anchor="end" fill="#2b2b2b">25</text>
<line x1="227.95" y1="744.8" x2="230.95" y2="744.8" stroke="#3a3a3a" stroke-width="1.1"/>
<line x1="227.95" y1="719.6" x2="230.95" y2="719.6" stroke="#3a3a3a" stroke-width="1.1"/>
<line x1="227.95" y1="694.4" x2="230.95" y2="694.4" stroke="#3a3a3a" stroke-width="1.1"/>
<line x1="227.95" y1="669.2" x2="230.95" y2="669.2" stroke="#3a3a3a" stroke-width="1.1"/>
<line x1="227.95" y1="644" x2="230.95" y2="644" stroke="#3a3a3a" stroke-width="1.1"/>
<line x1="230.95" y1="631.4" x2="230.95" y2="757.4" stroke="#555" stroke-width="1.3"/>
<line x1="868.53" y1="631.4" x2="868.53" y2="757.4" stroke="#3a3a3a" stroke-width="1.4"/>
<line x1="868.53" y1="738.61" x2="873.53" y2="738.61" stroke="#3a3a3a" stroke-width="1.3"/>
<text transform="translate(877.53,742.61) scale(0.95,1)" font-size="15.4" text-anchor="start" fill="#2b2b2b">5</text>
<line x1="868.53" y1="712.3" x2="873.53" y2="712.3" stroke="#3a3a3a" stroke-width="1.3"/>
<text transform="translate(877.53,716.3) scale(0.95,1)" font-size="15.4" text-anchor="start" fill="#2b2b2b">12</text>
<line x1="868.53" y1="685.99" x2="873.53" y2="685.99" stroke="#3a3a3a" stroke-width="1.3"/>
<text transform="translate(877.53,689.99) scale(0.95,1)" font-size="15.4" text-anchor="start" fill="#2b2b2b">19</text>
<line x1="868.53" y1="659.68" x2="873.53" y2="659.68" stroke="#3a3a3a" stroke-width="1.3"/>
<text transform="translate(877.53,663.68) scale(0.95,1)" font-size="15.4" text-anchor="start" fill="#2b2b2b">26</text>
<line x1="868.53" y1="633.38" x2="873.53" y2="633.38" stroke="#3a3a3a" stroke-width="1.3"/>
<text transform="translate(877.53,637.38) scale(0.95,1)" font-size="15.4" text-anchor="start" fill="#2b2b2b">33</text>
<line x1="868.53" y1="751.76" x2="871.53" y2="751.76" stroke="#3a3a3a" stroke-width="1.1"/>
<line x1="868.53" y1="725.45" x2="871.53" y2="725.45" stroke="#3a3a3a" stroke-width="1.1"/>
<line x1="868.53" y1="699.15" x2="871.53" y2="699.15" stroke="#3a3a3a" stroke-width="1.1"/>
<line x1="868.53" y1="672.84" x2="871.53" y2="672.84" stroke="#3a3a3a" stroke-width="1.1"/>
<line x1="868.53" y1="646.53" x2="871.53" y2="646.53" stroke="#3a3a3a" stroke-width="1.1"/>
<text x="138.5" y="655.3" font-size="16" text-anchor="start" font-weight="normal" font-style="italic" fill="#2b2b2b">P2[kW]</text>
<text x="902.6" y="656.4" font-size="16" text-anchor="start" font-weight="normal" font-style="italic" fill="#2b2b2b">P2[HP]</text>
<rect x="808.1" y="651.1" width="13.7" height="14" fill="#fff"/>
<rect x="732.6" y="666.2" width="12.6" height="14" fill="#fff"/>
<rect x="730.7" y="684.3" width="12.6" height="14" fill="#fff"/>
<rect x="690.7" y="694" width="12.2" height="14" fill="#fff"/>
<rect x="655.6" y="704.2" width="12.2" height="14" fill="#fff"/>
<rect x="656.6" y="722.7" width="11.2" height="14" fill="#fff"/>
<rect x="591.7" y="725.6" width="13.6" height="14" fill="#fff"/>
<path d="M408.5,691.73 C410.5,691.37 416.51,690.25 420.52,689.55 C424.53,688.84 428.54,688.16 432.54,687.5 C436.55,686.84 440.56,686.21 444.56,685.59 C448.57,684.98 452.58,684.38 456.58,683.81 C460.59,683.23 464.6,682.68 468.61,682.15 C472.61,681.61 476.62,681.09 480.63,680.6 C484.63,680.1 488.64,679.62 492.65,679.16 C496.66,678.69 500.66,678.25 504.67,677.82 C508.68,677.39 512.68,676.98 516.69,676.58 C520.7,676.18 524.71,675.8 528.71,675.43 C532.72,675.06 536.73,674.7 540.73,674.36 C544.74,674.02 548.75,673.69 552.75,673.37 C556.76,673.05 560.77,672.74 564.78,672.45 C568.78,672.15 572.79,671.87 576.8,671.59 C580.8,671.32 584.81,671.05 588.82,670.8 C592.83,670.54 596.83,670.3 600.84,670.06 C604.85,669.82 608.85,669.58 612.86,669.36 C616.87,669.13 620.87,668.91 624.88,668.7 C628.89,668.49 632.9,668.28 636.9,668.08 C640.91,667.88 644.92,667.68 648.92,667.48 C652.93,667.29 656.94,667.1 660.95,666.91 C664.95,666.72 668.96,666.54 672.97,666.35 C676.97,666.17 680.98,665.99 684.99,665.8 C688.99,665.62 693,665.44 697.01,665.26 C701.02,665.07 705.02,664.89 709.03,664.71 C713.04,664.52 717.04,664.34 721.05,664.15 C725.06,663.96 729.07,663.77 733.07,663.57 C737.08,663.38 741.09,663.18 745.09,662.97 C749.1,662.77 753.11,662.56 757.12,662.35 C761.12,662.14 765.13,661.92 769.14,661.69 C773.14,661.46 777.15,661.23 781.16,660.99 C785.16,660.75 789.17,660.5 793.18,660.24 C797.19,659.98 803.2,659.57 805.2,659.44" fill="none" stroke="#161616" stroke-width="2.6" stroke-linecap="round" stroke-linejoin="round"/>
<path d="M409.5,699.73 C411.56,699.42 417.72,698.46 421.83,697.85 C425.95,697.24 430.06,696.65 434.17,696.07 C438.28,695.49 442.39,694.92 446.5,694.37 C450.62,693.82 454.73,693.28 458.84,692.76 C462.95,692.24 467.06,691.73 471.17,691.24 C475.28,690.74 479.4,690.26 483.51,689.79 C487.62,689.32 491.73,688.87 495.84,688.42 C499.95,687.98 504.07,687.55 508.18,687.13 C512.29,686.72 516.4,686.31 520.51,685.92 C524.62,685.52 528.73,685.14 532.85,684.77 C536.96,684.4 541.07,684.04 545.18,683.7 C549.29,683.35 553.4,683.01 557.52,682.69 C561.63,682.36 565.74,682.04 569.85,681.74 C573.96,681.43 578.07,681.14 582.18,680.86 C586.3,680.57 590.41,680.3 594.52,680.03 C598.63,679.76 602.74,679.51 606.85,679.26 C610.97,679.01 615.08,678.78 619.19,678.55 C623.3,678.32 627.41,678.1 631.52,677.88 C635.63,677.67 639.75,677.47 643.86,677.27 C647.97,677.07 652.08,676.89 656.19,676.7 C660.3,676.52 664.42,676.35 668.53,676.18 C672.64,676.01 676.75,675.85 680.86,675.7 C684.97,675.55 689.08,675.4 693.2,675.26 C697.31,675.12 701.42,674.98 705.53,674.85 C709.64,674.73 713.75,674.6 717.87,674.48 C721.98,674.37 728.14,674.2 730.2,674.15" fill="none" stroke="#161616" stroke-width="2.6" stroke-linecap="round" stroke-linejoin="round"/>
<path d="M409.5,708.33 C411.56,708.19 417.74,707.77 421.85,707.49 C425.97,707.22 430.09,706.94 434.21,706.67 C438.33,706.39 442.44,706.12 446.56,705.84 C450.68,705.57 454.8,705.3 458.92,705.02 C463.03,704.75 467.15,704.47 471.27,704.2 C475.39,703.92 479.51,703.65 483.62,703.37 C487.74,703.1 491.86,702.82 495.98,702.54 C500.09,702.26 504.21,701.98 508.33,701.69 C512.45,701.41 516.57,701.13 520.68,700.84 C524.8,700.55 528.92,700.26 533.04,699.97 C537.16,699.67 541.27,699.38 545.39,699.08 C549.51,698.78 553.63,698.47 557.75,698.16 C561.86,697.86 565.98,697.55 570.1,697.23 C574.22,696.91 578.34,696.59 582.45,696.27 C586.57,695.94 590.69,695.61 594.81,695.27 C598.93,694.94 603.04,694.6 607.16,694.25 C611.28,693.9 615.4,693.55 619.52,693.19 C623.63,692.83 627.75,692.46 631.87,692.09 C635.99,691.71 640.11,691.33 644.22,690.95 C648.34,690.56 652.46,690.16 656.58,689.76 C660.69,689.36 664.81,688.95 668.93,688.53 C673.05,688.11 677.17,687.68 681.28,687.25 C685.4,686.81 689.52,686.36 693.64,685.91 C697.76,685.46 701.87,684.99 705.99,684.52 C710.11,684.05 714.23,683.56 718.35,683.07 C722.46,682.58 728.64,681.81 730.7,681.56" fill="none" stroke="#161616" stroke-width="2.6" stroke-linecap="round" stroke-linejoin="round"/>
<path d="M396.8,716.61 C398.83,716.39 404.93,715.72 409,715.29 C413.07,714.87 417.13,714.46 421.2,714.06 C425.27,713.66 429.33,713.27 433.4,712.9 C437.47,712.53 441.53,712.17 445.6,711.82 C449.67,711.47 453.73,711.14 457.8,710.81 C461.87,710.49 465.93,710.18 470,709.88 C474.07,709.58 478.13,709.29 482.2,709.01 C486.27,708.73 490.33,708.46 494.4,708.2 C498.47,707.95 502.53,707.7 506.6,707.46 C510.67,707.23 514.73,707 518.8,706.78 C522.87,706.56 526.93,706.36 531,706.16 C535.07,705.96 539.13,705.77 543.2,705.59 C547.27,705.41 551.33,705.24 555.4,705.07 C559.47,704.91 563.53,704.75 567.6,704.6 C571.67,704.45 575.73,704.31 579.8,704.18 C583.87,704.05 587.93,703.92 592,703.8 C596.07,703.68 600.13,703.57 604.2,703.46 C608.27,703.36 612.33,703.26 616.4,703.16 C620.47,703.07 624.53,702.98 628.6,702.9 C632.67,702.82 636.73,702.74 640.8,702.67 C644.87,702.6 648.93,702.53 653,702.47 C657.07,702.4 661.13,702.35 665.2,702.29 C669.27,702.24 673.33,702.19 677.4,702.14 C681.47,702.1 687.57,702.04 689.6,702.01" fill="none" stroke="#161616" stroke-width="2.6" stroke-linecap="round" stroke-linejoin="round"/>
<path d="M396.8,719.88 C398.84,719.74 404.95,719.29 409.02,719.02 C413.1,718.74 417.17,718.47 421.25,718.21 C425.32,717.95 429.4,717.7 433.47,717.46 C437.55,717.23 441.62,717 445.7,716.78 C449.77,716.56 453.84,716.35 457.92,716.15 C461.99,715.95 466.07,715.76 470.14,715.57 C474.22,715.39 478.29,715.22 482.37,715.05 C486.44,714.89 490.52,714.73 494.59,714.58 C498.67,714.43 502.74,714.29 506.81,714.15 C510.89,714.02 514.96,713.9 519.04,713.78 C523.11,713.66 527.19,713.55 531.26,713.44 C535.34,713.34 539.41,713.24 543.49,713.15 C547.56,713.06 551.63,712.97 555.71,712.9 C559.78,712.82 563.86,712.75 567.93,712.68 C572.01,712.61 576.08,712.55 580.16,712.5 C584.23,712.44 588.31,712.4 592.38,712.35 C596.46,712.31 600.53,712.27 604.6,712.23 C608.68,712.2 612.75,712.17 616.83,712.15 C620.9,712.12 624.98,712.1 629.05,712.09 C633.13,712.07 637.2,712.06 641.28,712.05 C645.35,712.04 651.46,712.04 653.5,712.03" fill="none" stroke="#161616" stroke-width="2.6" stroke-linecap="round" stroke-linejoin="round"/>
<path d="M396.8,728.6 C398.84,728.48 404.95,728.13 409.02,727.91 C413.1,727.69 417.17,727.48 421.25,727.27 C425.32,727.07 429.4,726.87 433.47,726.68 C437.55,726.48 441.62,726.3 445.7,726.12 C449.77,725.94 453.84,725.77 457.92,725.6 C461.99,725.43 466.07,725.27 470.14,725.11 C474.22,724.95 478.29,724.8 482.37,724.66 C486.44,724.51 490.52,724.37 494.59,724.23 C498.67,724.09 502.74,723.95 506.81,723.82 C510.89,723.69 514.96,723.57 519.04,723.44 C523.11,723.32 527.19,723.2 531.26,723.08 C535.34,722.96 539.41,722.85 543.49,722.74 C547.56,722.62 551.63,722.51 555.71,722.4 C559.78,722.3 563.86,722.19 567.93,722.08 C572.01,721.98 576.08,721.87 580.16,721.77 C584.23,721.67 588.31,721.56 592.38,721.46 C596.46,721.36 600.53,721.26 604.6,721.15 C608.68,721.05 612.75,720.95 616.83,720.85 C620.9,720.74 624.98,720.64 629.05,720.53 C633.13,720.43 637.2,720.32 641.28,720.22 C645.35,720.11 651.46,719.94 653.5,719.89" fill="none" stroke="#161616" stroke-width="2.6" stroke-linecap="round" stroke-linejoin="round"/>
<path d="M396.8,733 C398.81,732.98 404.85,732.91 408.88,732.87 C412.9,732.82 416.93,732.79 420.95,732.75 C424.97,732.71 429,732.68 433.02,732.64 C437.05,732.61 441.08,732.57 445.1,732.54 C449.12,732.51 453.15,732.48 457.18,732.44 C461.2,732.41 465.23,732.38 469.25,732.35 C473.27,732.31 477.3,732.28 481.32,732.24 C485.35,732.21 489.38,732.17 493.4,732.13 C497.42,732.09 501.45,732.05 505.48,732.01 C509.5,731.97 513.52,731.92 517.55,731.87 C521.57,731.82 525.6,731.77 529.62,731.72 C533.65,731.66 537.68,731.6 541.7,731.53 C545.73,731.47 549.75,731.4 553.77,731.33 C557.8,731.25 561.83,731.17 565.85,731.09 C569.88,731 573.9,730.91 577.92,730.81 C581.95,730.72 587.99,730.55 590,730.5" fill="none" stroke="#161616" stroke-width="2.6" stroke-linecap="round" stroke-linejoin="round"/>
<text x="810.1" y="663.1" font-size="13.5" text-anchor="start" font-weight="bold" font-style="normal" fill="#1e1e1e">A</text>
<text x="734.6" y="678.2" font-size="13.5" text-anchor="start" font-weight="bold" font-style="normal" fill="#1e1e1e">B</text>
<text x="732.7" y="696.3" font-size="13.5" text-anchor="start" font-weight="bold" font-style="normal" fill="#1e1e1e">C</text>
<text x="692.7" y="706" font-size="13.5" text-anchor="start" font-weight="bold" font-style="normal" fill="#1e1e1e">D</text>
<text x="657.6" y="716.2" font-size="13.5" text-anchor="start" font-weight="bold" font-style="normal" fill="#1e1e1e">E</text>
<text x="658.6" y="734.7" font-size="13.5" text-anchor="start" font-weight="bold" font-style="normal" fill="#1e1e1e">F</text>
<text x="593.7" y="737.6" font-size="13.5" text-anchor="start" font-weight="bold" font-style="normal" fill="#1e1e1e">G</text>
<line x1="294.71" y1="795.5" x2="294.71" y2="990.4" stroke="#4a4a4a" stroke-width="1.2"/>
<line x1="358.46" y1="795.5" x2="358.46" y2="990.4" stroke="#4a4a4a" stroke-width="1.2"/>
<line x1="422.22" y1="795.5" x2="422.22" y2="990.4" stroke="#4a4a4a" stroke-width="1.2"/>
<line x1="485.98" y1="795.5" x2="485.98" y2="990.4" stroke="#4a4a4a" stroke-width="1.2"/>
<line x1="549.74" y1="795.5" x2="549.74" y2="990.4" stroke="#4a4a4a" stroke-width="1.2"/>
<line x1="613.5" y1="795.5" x2="613.5" y2="990.4" stroke="#4a4a4a" stroke-width="1.2"/>
<line x1="677.25" y1="795.5" x2="677.25" y2="990.4" stroke="#4a4a4a" stroke-width="1.2"/>
<line x1="741.01" y1="795.5" x2="741.01" y2="990.4" stroke="#4a4a4a" stroke-width="1.2"/>
<line x1="804.77" y1="795.5" x2="804.77" y2="990.4" stroke="#4a4a4a" stroke-width="1.2"/>
<line x1="225.95" y1="990.4" x2="868.53" y2="990.4" stroke="#3a3a3a" stroke-width="1.3"/>
<line x1="227.95" y1="957.92" x2="868.53" y2="957.92" stroke="#4a4a4a" stroke-width="1.2"/>
<line x1="225.95" y1="925.43" x2="868.53" y2="925.43" stroke="#4a4a4a" stroke-width="1.2"/>
<line x1="227.95" y1="892.95" x2="868.53" y2="892.95" stroke="#4a4a4a" stroke-width="1.2"/>
<line x1="225.95" y1="860.46" x2="868.53" y2="860.46" stroke="#4a4a4a" stroke-width="1.2"/>
<line x1="227.95" y1="827.98" x2="868.53" y2="827.98" stroke="#4a4a4a" stroke-width="1.2"/>
<line x1="225.95" y1="795.5" x2="868.53" y2="795.5" stroke="#4a4a4a" stroke-width="1.2"/>
<text transform="translate(221.95,994.4) scale(0.95,1)" font-size="15.4" text-anchor="end" fill="#2b2b2b">2</text>
<text transform="translate(221.95,929.43) scale(0.95,1)" font-size="15.4" text-anchor="end" fill="#2b2b2b">5</text>
<text transform="translate(221.95,864.46) scale(0.95,1)" font-size="15.4" text-anchor="end" fill="#2b2b2b">8</text>
<text transform="translate(221.95,799.5) scale(0.95,1)" font-size="15.4" text-anchor="end" fill="#2b2b2b">11</text>
<line x1="230.95" y1="795.5" x2="230.95" y2="990.4" stroke="#555" stroke-width="1.3"/>
<line x1="868.53" y1="795.5" x2="868.53" y2="990.4" stroke="#3a3a3a" stroke-width="1.4"/>
<line x1="868.53" y1="980.91" x2="873.53" y2="980.91" stroke="#3a3a3a" stroke-width="1.3"/>
<text transform="translate(877.53,984.91) scale(0.95,1)" font-size="15.4" text-anchor="start" fill="#2b2b2b">8</text>
<line x1="868.53" y1="928.1" x2="873.53" y2="928.1" stroke="#3a3a3a" stroke-width="1.3"/>
<text transform="translate(877.53,932.1) scale(0.95,1)" font-size="15.4" text-anchor="start" fill="#2b2b2b">16</text>
<line x1="868.53" y1="875.29" x2="873.53" y2="875.29" stroke="#3a3a3a" stroke-width="1.3"/>
<text transform="translate(877.53,879.29) scale(0.95,1)" font-size="15.4" text-anchor="start" fill="#2b2b2b">24</text>
<line x1="868.53" y1="822.49" x2="873.53" y2="822.49" stroke="#3a3a3a" stroke-width="1.3"/>
<text transform="translate(877.53,826.49) scale(0.95,1)" font-size="15.4" text-anchor="start" fill="#2b2b2b">32</text>
<line x1="868.53" y1="954.5" x2="871.53" y2="954.5" stroke="#3a3a3a" stroke-width="1.1"/>
<line x1="868.53" y1="901.7" x2="871.53" y2="901.7" stroke="#3a3a3a" stroke-width="1.1"/>
<line x1="868.53" y1="848.89" x2="871.53" y2="848.89" stroke="#3a3a3a" stroke-width="1.1"/>
<line x1="868.53" y1="796.09" x2="871.53" y2="796.09" stroke="#3a3a3a" stroke-width="1.1"/>
<text x="133.6" y="813.8" font-size="16" text-anchor="start" font-weight="normal" font-style="italic" fill="#2b2b2b">NPSHr[m]</text>
<text x="891.5" y="812" font-size="16" text-anchor="start" font-weight="normal" font-style="italic" fill="#2b2b2b">NPSHr[ft]</text>
<rect x="693.3" y="810.5" width="14.4" height="14" fill="#fff"/>
<rect x="694.2" y="828" width="24.6" height="14" fill="#fff"/>
<rect x="614.7" y="819.2" width="13.2" height="14" fill="#fff"/>
<rect x="692.7" y="842.8" width="12.5" height="14" fill="#fff"/>
<rect x="690.5" y="865.9" width="13.1" height="14" fill="#fff"/>
<rect x="766.6" y="840.9" width="13.2" height="14" fill="#fff"/>
<path d="M306.6,937.35 C308.66,936.7 314.85,934.72 318.98,933.42 C323.11,932.11 327.23,930.8 331.36,929.51 C335.49,928.21 339.62,926.91 343.74,925.62 C347.87,924.33 352,923.05 356.12,921.77 C360.25,920.49 364.38,919.21 368.5,917.94 C372.63,916.66 376.76,915.4 380.88,914.13 C385.01,912.87 389.14,911.61 393.26,910.35 C397.39,909.1 401.52,907.84 405.65,906.59 C409.77,905.35 413.9,904.1 418.03,902.86 C422.15,901.62 426.28,900.38 430.41,899.15 C434.53,897.92 438.66,896.69 442.79,895.46 C446.91,894.23 451.04,893.01 455.17,891.79 C459.29,890.57 463.42,889.35 467.55,888.14 C471.68,886.93 475.8,885.72 479.93,884.51 C484.06,883.31 488.18,882.1 492.31,880.9 C496.44,879.7 500.56,878.51 504.69,877.31 C508.82,876.12 512.94,874.93 517.07,873.74 C521.2,872.55 525.32,871.36 529.45,870.18 C533.58,869 537.71,867.82 541.83,866.64 C545.96,865.46 550.09,864.29 554.21,863.11 C558.34,861.94 562.47,860.77 566.59,859.6 C570.72,858.44 574.85,857.27 578.97,856.11 C583.1,854.94 587.23,853.78 591.35,852.63 C595.48,851.47 599.61,850.31 603.74,849.16 C607.86,848 611.99,846.85 616.12,845.7 C620.24,844.55 624.37,843.4 628.5,842.25 C632.62,841.1 636.75,839.96 640.88,838.82 C645,837.67 649.13,836.53 653.26,835.39 C657.38,834.25 661.51,833.11 665.64,831.98 C669.77,830.84 673.89,829.7 678.02,828.57 C682.15,827.43 688.34,825.74 690.4,825.17" fill="none" stroke="#161616" stroke-width="2.5" stroke-linecap="round" stroke-linejoin="round"/>
<path d="M306.6,947.93 C308.66,947.47 314.85,946.08 318.97,945.14 C323.09,944.2 327.21,943.27 331.34,942.32 C335.46,941.38 339.58,940.43 343.7,939.48 C347.83,938.52 351.95,937.56 356.07,936.6 C360.19,935.63 364.32,934.67 368.44,933.69 C372.56,932.71 376.68,931.73 380.81,930.75 C384.93,929.76 389.05,928.77 393.17,927.77 C397.3,926.76 401.42,925.76 405.54,924.74 C409.66,923.73 413.79,922.71 417.91,921.68 C422.03,920.65 426.15,919.62 430.28,918.57 C434.4,917.53 438.52,916.48 442.65,915.42 C446.77,914.35 450.89,913.29 455.01,912.21 C459.14,911.13 463.26,910.05 467.38,908.95 C471.5,907.86 475.63,906.75 479.75,905.64 C483.87,904.52 487.99,903.4 492.12,902.27 C496.24,901.13 500.36,899.99 504.48,898.84 C508.61,897.68 512.73,896.52 516.85,895.34 C520.97,894.17 525.1,892.98 529.22,891.79 C533.34,890.59 537.46,889.38 541.59,888.16 C545.71,886.94 549.83,885.71 553.95,884.47 C558.08,883.22 562.2,881.97 566.32,880.7 C570.45,879.43 574.57,878.15 578.69,876.86 C582.81,875.57 586.94,874.26 591.06,872.94 C595.18,871.62 599.3,870.29 603.43,868.94 C607.55,867.6 611.67,866.24 615.79,864.86 C619.92,863.49 624.04,862.1 628.16,860.7 C632.28,859.29 636.41,857.88 640.53,856.44 C644.65,855.01 648.77,853.57 652.9,852.1 C657.02,850.64 661.14,849.16 665.26,847.67 C669.39,846.18 673.51,844.67 677.63,843.14 C681.75,841.61 687.94,839.29 690,838.52" fill="none" stroke="#161616" stroke-width="2.5" stroke-linecap="round" stroke-linejoin="round"/>
<path d="M306.6,968.66 C308.66,968.3 314.85,967.24 318.97,966.52 C323.1,965.8 327.22,965.07 331.34,964.34 C335.47,963.6 339.59,962.86 343.72,962.1 C347.84,961.35 351.96,960.58 356.09,959.8 C360.21,959.01 364.34,958.22 368.46,957.41 C372.58,956.59 376.71,955.76 380.83,954.9 C384.96,954.05 389.08,953.18 393.2,952.27 C397.33,951.37 401.45,950.44 405.58,949.48 C409.7,948.52 413.82,947.53 417.95,946.49 C422.07,945.46 426.2,944.4 430.32,943.29 C434.44,942.17 438.57,941.03 442.69,939.82 C446.82,938.61 450.94,937.36 455.06,936.05 C459.19,934.74 463.31,933.38 467.44,931.94 C471.56,930.51 475.68,929.01 479.81,927.44 C483.93,925.87 488.06,924.23 492.18,922.5 C496.3,920.77 500.43,918.97 504.55,917.07 C508.68,915.17 512.8,913.19 516.92,911.1 C521.05,909.01 525.17,906.83 529.3,904.52 C533.42,902.22 537.54,899.82 541.67,897.28 C545.79,894.74 549.92,892.1 554.04,889.31 C558.16,886.52 562.29,883.61 566.41,880.54 C570.54,877.47 574.66,874.27 578.78,870.9 C582.91,867.53 587.03,864.02 591.16,860.32 C595.28,856.62 599.4,852.77 603.53,848.72 C607.65,844.67 613.84,838.14 615.9,836.02" fill="none" stroke="#161616" stroke-width="2.5" stroke-linecap="round" stroke-linejoin="round"/>
<path d="M306.6,969.37 C308.66,969.06 314.85,968.1 318.97,967.5 C323.1,966.9 327.22,966.32 331.35,965.75 C335.47,965.19 339.6,964.64 343.72,964.1 C347.85,963.55 351.97,963.03 356.1,962.5 C360.22,961.97 364.35,961.46 368.47,960.94 C372.6,960.42 376.72,959.91 380.85,959.4 C384.97,958.88 389.09,958.36 393.22,957.84 C397.34,957.31 401.47,956.78 405.59,956.24 C409.72,955.7 413.84,955.15 417.97,954.58 C422.09,954.01 426.22,953.44 430.34,952.83 C434.47,952.23 438.59,951.61 442.72,950.97 C446.84,950.33 450.97,949.66 455.09,948.97 C459.22,948.27 463.34,947.55 467.46,946.8 C471.59,946.04 475.71,945.26 479.84,944.44 C483.96,943.62 488.09,942.76 492.21,941.86 C496.34,940.96 500.46,940.03 504.59,939.04 C508.71,938.06 512.84,937.04 516.96,935.96 C521.09,934.88 525.21,933.76 529.34,932.58 C533.46,931.4 537.58,930.18 541.71,928.89 C545.83,927.6 549.96,926.26 554.08,924.85 C558.21,923.44 562.33,921.98 566.46,920.44 C570.58,918.91 574.71,917.31 578.83,915.64 C582.96,913.97 587.08,912.24 591.21,910.42 C595.33,908.61 599.46,906.73 603.58,904.76 C607.71,902.79 611.83,900.75 615.95,898.62 C620.08,896.5 624.2,894.29 628.33,891.99 C632.45,889.69 636.58,887.31 640.7,884.84 C644.83,882.36 648.95,879.8 653.08,877.14 C657.2,874.48 661.33,871.73 665.45,868.87 C669.58,866.01 673.7,863.06 677.83,860 C681.95,856.94 688.14,852.09 690.2,850.51" fill="none" stroke="#161616" stroke-width="2.5" stroke-linecap="round" stroke-linejoin="round"/>
<path d="M306.6,969.5 C308.66,969.25 314.85,968.51 318.97,968.04 C323.09,967.56 327.21,967.09 331.34,966.63 C335.46,966.17 339.58,965.71 343.7,965.26 C347.83,964.81 351.95,964.36 356.07,963.91 C360.19,963.46 364.32,963.02 368.44,962.57 C372.56,962.12 376.68,961.67 380.81,961.22 C384.93,960.77 389.05,960.31 393.17,959.84 C397.3,959.38 401.42,958.91 405.54,958.43 C409.66,957.95 413.79,957.46 417.91,956.96 C422.03,956.45 426.15,955.94 430.28,955.41 C434.4,954.88 438.52,954.34 442.65,953.78 C446.77,953.22 450.89,952.64 455.01,952.05 C459.14,951.45 463.26,950.83 467.38,950.19 C471.5,949.55 475.63,948.89 479.75,948.2 C483.87,947.52 487.99,946.81 492.12,946.07 C496.24,945.32 500.36,944.56 504.48,943.76 C508.61,942.96 512.73,942.14 516.85,941.28 C520.97,940.41 525.1,939.52 529.22,938.59 C533.34,937.66 537.46,936.7 541.59,935.7 C545.71,934.7 549.83,933.66 553.95,932.58 C558.08,931.49 562.2,930.37 566.32,929.21 C570.45,928.04 574.57,926.84 578.69,925.58 C582.81,924.33 586.94,923.03 591.06,921.68 C595.18,920.33 599.3,918.94 603.43,917.49 C607.55,916.04 611.67,914.54 615.79,912.99 C619.92,911.43 624.04,909.83 628.16,908.17 C632.28,906.5 636.41,904.79 640.53,903.01 C644.65,901.23 648.77,899.39 652.9,897.49 C657.02,895.59 661.14,893.64 665.26,891.61 C669.39,889.59 673.51,887.5 677.63,885.35 C681.75,883.19 687.94,879.79 690,878.68" fill="none" stroke="#161616" stroke-width="2.5" stroke-linecap="round" stroke-linejoin="round"/>
<path d="M306.6,969.41 C308.64,969.21 314.77,968.61 318.85,968.21 C322.94,967.81 327.02,967.42 331.1,967.03 C335.19,966.64 339.27,966.26 343.36,965.87 C347.44,965.49 351.52,965.1 355.61,964.72 C359.69,964.33 363.78,963.95 367.86,963.56 C371.94,963.18 376.03,962.79 380.11,962.39 C384.2,962 388.28,961.61 392.36,961.2 C396.45,960.8 400.53,960.4 404.62,959.98 C408.7,959.57 412.78,959.15 416.87,958.72 C420.95,958.29 425.04,957.85 429.12,957.4 C433.2,956.96 437.29,956.5 441.37,956.03 C445.46,955.56 449.54,955.08 453.62,954.59 C457.71,954.09 461.79,953.59 465.88,953.06 C469.96,952.54 474.04,952.01 478.13,951.45 C482.21,950.9 486.3,950.33 490.38,949.74 C494.46,949.15 498.55,948.55 502.63,947.92 C506.72,947.3 510.8,946.66 514.88,945.99 C518.97,945.32 523.05,944.64 527.14,943.93 C531.22,943.22 535.3,942.49 539.39,941.73 C543.47,940.97 547.56,940.19 551.64,939.39 C555.72,938.58 559.81,937.75 563.89,936.89 C567.98,936.02 572.06,935.14 576.14,934.22 C580.23,933.3 584.31,932.36 588.4,931.38 C592.48,930.4 596.56,929.44 600.65,928.36 C604.73,927.28 605.34,927.21 612.9,924.9 C620.46,922.59 635.42,918.07 646,914.5 C656.58,910.93 666.62,907.28 676.4,903.5 C686.18,899.72 693.97,897.08 704.7,891.8 C715.43,886.52 730.75,877.8 740.8,871.8 C750.85,865.8 760.97,858.47 765,855.8" fill="none" stroke="#161616" stroke-width="2.5" stroke-linecap="round" stroke-linejoin="round"/>
<text x="695.3" y="822.6" font-size="13.5" text-anchor="start" font-weight="bold" font-style="normal" fill="#1e1e1e">G</text>
<text x="696.2" y="840.1" font-size="13.5" text-anchor="start" font-weight="bold" font-style="normal" fill="#1e1e1e">E-F</text>
<text x="616.7" y="831.3" font-size="13.5" text-anchor="start" font-weight="bold" font-style="normal" fill="#1e1e1e">D</text>
<text x="694.7" y="854.9" font-size="13.5" text-anchor="start" font-weight="bold" font-style="normal" fill="#1e1e1e">C</text>
<text x="692.5" y="878" font-size="13.5" text-anchor="start" font-weight="bold" font-style="normal" fill="#1e1e1e">B</text>
<text x="768.6" y="853" font-size="13.5" text-anchor="start" font-weight="bold" font-style="normal" fill="#1e1e1e">A</text>
<line x1="230.95" y1="1040.2" x2="868.53" y2="1040.2" stroke="#3a3a3a" stroke-width="1.5"/>
<line x1="230.95" y1="1035.2" x2="230.95" y2="1040.2" stroke="#3a3a3a" stroke-width="1.3"/>
<text transform="translate(230.95,1027.8) scale(0.95,1)" font-size="15.4" text-anchor="middle" fill="#2b2b2b">0</text>
<line x1="294.71" y1="1035.2" x2="294.71" y2="1040.2" stroke="#3a3a3a" stroke-width="1.3"/>
<text transform="translate(294.71,1027.8) scale(0.95,1)" font-size="15.4" text-anchor="middle" fill="#2b2b2b">25</text>
<line x1="358.46" y1="1035.2" x2="358.46" y2="1040.2" stroke="#3a3a3a" stroke-width="1.3"/>
<text transform="translate(358.46,1027.8) scale(0.95,1)" font-size="15.4" text-anchor="middle" fill="#2b2b2b">50</text>
<line x1="422.22" y1="1035.2" x2="422.22" y2="1040.2" stroke="#3a3a3a" stroke-width="1.3"/>
<text transform="translate(422.22,1027.8) scale(0.95,1)" font-size="15.4" text-anchor="middle" fill="#2b2b2b">75</text>
<line x1="485.98" y1="1035.2" x2="485.98" y2="1040.2" stroke="#3a3a3a" stroke-width="1.3"/>
<text transform="translate(485.98,1027.8) scale(0.95,1)" font-size="15.4" text-anchor="middle" fill="#2b2b2b">100</text>
<line x1="549.74" y1="1035.2" x2="549.74" y2="1040.2" stroke="#3a3a3a" stroke-width="1.3"/>
<text transform="translate(549.74,1027.8) scale(0.95,1)" font-size="15.4" text-anchor="middle" fill="#2b2b2b">125</text>
<line x1="613.5" y1="1035.2" x2="613.5" y2="1040.2" stroke="#3a3a3a" stroke-width="1.3"/>
<text transform="translate(613.5,1027.8) scale(0.95,1)" font-size="15.4" text-anchor="middle" fill="#2b2b2b">150</text>
<line x1="677.25" y1="1035.2" x2="677.25" y2="1040.2" stroke="#3a3a3a" stroke-width="1.3"/>
<text transform="translate(677.25,1027.8) scale(0.95,1)" font-size="15.4" text-anchor="middle" fill="#2b2b2b">175</text>
<line x1="741.01" y1="1035.2" x2="741.01" y2="1040.2" stroke="#3a3a3a" stroke-width="1.3"/>
<text transform="translate(741.01,1027.8) scale(0.95,1)" font-size="15.4" text-anchor="middle" fill="#2b2b2b">200</text>
<line x1="804.77" y1="1035.2" x2="804.77" y2="1040.2" stroke="#3a3a3a" stroke-width="1.3"/>
<text transform="translate(804.77,1027.8) scale(0.95,1)" font-size="15.4" text-anchor="middle" fill="#2b2b2b">225</text>
<line x1="868.53" y1="1035.2" x2="868.53" y2="1040.2" stroke="#3a3a3a" stroke-width="1.3"/>
<text transform="translate(868.53,1027.8) scale(0.95,1)" font-size="15.4" text-anchor="middle" fill="#2b2b2b">250</text>
<line x1="262.83" y1="1037.2" x2="262.83" y2="1040.2" stroke="#3a3a3a" stroke-width="1.1"/>
<line x1="326.59" y1="1037.2" x2="326.59" y2="1040.2" stroke="#3a3a3a" stroke-width="1.1"/>
<line x1="390.34" y1="1037.2" x2="390.34" y2="1040.2" stroke="#3a3a3a" stroke-width="1.1"/>
<line x1="454.1" y1="1037.2" x2="454.1" y2="1040.2" stroke="#3a3a3a" stroke-width="1.1"/>
<line x1="517.86" y1="1037.2" x2="517.86" y2="1040.2" stroke="#3a3a3a" stroke-width="1.1"/>
<line x1="581.62" y1="1037.2" x2="581.62" y2="1040.2" stroke="#3a3a3a" stroke-width="1.1"/>
<line x1="645.37" y1="1037.2" x2="645.37" y2="1040.2" stroke="#3a3a3a" stroke-width="1.1"/>
<line x1="709.13" y1="1037.2" x2="709.13" y2="1040.2" stroke="#3a3a3a" stroke-width="1.1"/>
<line x1="772.89" y1="1037.2" x2="772.89" y2="1040.2" stroke="#3a3a3a" stroke-width="1.1"/>
<line x1="836.65" y1="1037.2" x2="836.65" y2="1040.2" stroke="#3a3a3a" stroke-width="1.1"/>
<line x1="230.95" y1="1040.2" x2="230.95" y2="1045.7" stroke="#3a3a3a" stroke-width="1.3"/>
<text transform="translate(222.35,1060.6) scale(0.95,1)" font-size="15.4" text-anchor="middle" fill="#2b2b2b">0</text>
<line x1="307.46" y1="1040.2" x2="307.46" y2="1045.7" stroke="#3a3a3a" stroke-width="1.3"/>
<text transform="translate(298.86,1060.6) scale(0.95,1)" font-size="15.4" text-anchor="middle" fill="#2b2b2b">500</text>
<line x1="383.97" y1="1040.2" x2="383.97" y2="1045.7" stroke="#3a3a3a" stroke-width="1.3"/>
<text transform="translate(375.37,1060.6) scale(0.95,1)" font-size="15.4" text-anchor="middle" fill="#2b2b2b">1000</text>
<line x1="460.48" y1="1040.2" x2="460.48" y2="1045.7" stroke="#3a3a3a" stroke-width="1.3"/>
<text transform="translate(451.88,1060.6) scale(0.95,1)" font-size="15.4" text-anchor="middle" fill="#2b2b2b">1500</text>
<line x1="536.99" y1="1040.2" x2="536.99" y2="1045.7" stroke="#3a3a3a" stroke-width="1.3"/>
<text transform="translate(528.39,1060.6) scale(0.95,1)" font-size="15.4" text-anchor="middle" fill="#2b2b2b">2000</text>
<line x1="613.49" y1="1040.2" x2="613.49" y2="1045.7" stroke="#3a3a3a" stroke-width="1.3"/>
<text transform="translate(604.89,1060.6) scale(0.95,1)" font-size="15.4" text-anchor="middle" fill="#2b2b2b">2500</text>
<line x1="690" y1="1040.2" x2="690" y2="1045.7" stroke="#3a3a3a" stroke-width="1.3"/>
<text transform="translate(681.4,1060.6) scale(0.95,1)" font-size="15.4" text-anchor="middle" fill="#2b2b2b">3000</text>
<line x1="766.51" y1="1040.2" x2="766.51" y2="1045.7" stroke="#3a3a3a" stroke-width="1.3"/>
<text transform="translate(757.91,1060.6) scale(0.95,1)" font-size="15.4" text-anchor="middle" fill="#2b2b2b">3500</text>
<line x1="843.02" y1="1040.2" x2="843.02" y2="1045.7" stroke="#3a3a3a" stroke-width="1.3"/>
<text transform="translate(834.42,1060.6) scale(0.95,1)" font-size="15.4" text-anchor="middle" fill="#2b2b2b">4000</text>
<line x1="269.2" y1="1040.2" x2="269.2" y2="1043.2" stroke="#3a3a3a" stroke-width="1.1"/>
<line x1="345.71" y1="1040.2" x2="345.71" y2="1043.2" stroke="#3a3a3a" stroke-width="1.1"/>
<line x1="422.22" y1="1040.2" x2="422.22" y2="1043.2" stroke="#3a3a3a" stroke-width="1.1"/>
<line x1="498.73" y1="1040.2" x2="498.73" y2="1043.2" stroke="#3a3a3a" stroke-width="1.1"/>
<line x1="575.24" y1="1040.2" x2="575.24" y2="1043.2" stroke="#3a3a3a" stroke-width="1.1"/>
<line x1="651.75" y1="1040.2" x2="651.75" y2="1043.2" stroke="#3a3a3a" stroke-width="1.1"/>
<line x1="728.26" y1="1040.2" x2="728.26" y2="1043.2" stroke="#3a3a3a" stroke-width="1.1"/>
<line x1="804.77" y1="1040.2" x2="804.77" y2="1043.2" stroke="#3a3a3a" stroke-width="1.1"/>
<line x1="230.95" y1="1035.2" x2="230.95" y2="1045.7" stroke="#3a3a3a" stroke-width="1.3"/>
<line x1="868.53" y1="1035.2" x2="868.53" y2="1045.2" stroke="#3a3a3a" stroke-width="1.3"/>
<text x="881" y="1031" font-size="16" text-anchor="start" font-weight="normal" font-style="italic" fill="#2b2b2b">Q[m&#179;/h]</text>
<text x="882" y="1058.5" font-size="16" text-anchor="start" font-weight="normal" font-style="italic" fill="#2b2b2b">Q[l/min]</text>
</svg>
</body></html>
